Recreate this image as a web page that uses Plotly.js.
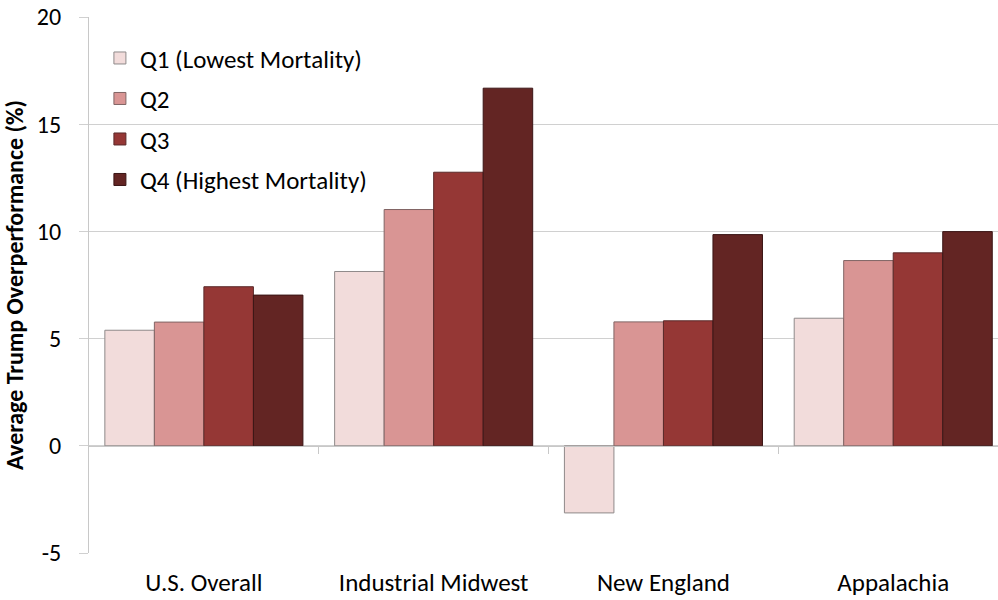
<!DOCTYPE html>
<html>
<head>
<meta charset="utf-8">
<script src="https://cdn.plot.ly/plotly-3.0.1.min.js"></script>
<style>html,body{margin:0;padding:0;background:#fff;}#chart{width:998px;height:600px;}</style>
</head>
<body>
<div id="chart"></div>
<script>
const categories = ["U.S. Overall", "Industrial Midwest", "New England", "Appalachia"];
const seriesNames = ["Q1 (Lowest Mortality)", "Q2", "Q3", "Q4 (Highest Mortality)"];
const q1 = [5.39, 8.13, -3.13, 5.95];
const q2 = [5.77, 11.02, 5.78, 8.64];
const q3 = [7.42, 12.76, 5.83, 9.0];
const q4 = [7.03, 16.68, 9.85, 9.99];
const yTicks = [-5, 0, 5, 10, 15, 20];
const yTickLabels = ["-5", "0", "5", "10", "15", "20"];
const boundaryTicks = [0.5, 1.5, 2.5];

const seriesValues = [q1, q2, q3, q4];
const fills = ["#F2DCDB", "#D99594", "#953735", "#632523"];
const edges = ["#8f8a8a", "#806464", "#5a2a2a", "#3a1515"];
const font = "Carlito, 'Open Sans', 'Noto Sans', sans-serif";

const traces = seriesValues.map((vals, i) => ({
  type: "bar",
  name: seriesNames[i],
  x: categories,
  y: vals,
  legendgroup: "g" + i,
  marker: {color: fills[i], line: {color: edges[i], width: 1}},
  hoverinfo: "x+y+name"
}));
traces.push({type: "scatter", mode: "markers", x: [], y: [], xaxis: "x2", yaxis: "y", showlegend: false, hoverinfo: "skip"});

const layout = {
  width: 998, height: 600,
  margin: {l: 89, r: 0, t: 17, b: 47},
  paper_bgcolor: "#fff", plot_bgcolor: "#fff",
  font: {family: font, color: "#000", size: 24},
  barmode: "group", bargap: 0.138, bargroupgap: 0,
  showlegend: true,
  legend: {x: 0.012, y: 0.966, xanchor: "left", yanchor: "top", bgcolor: "rgba(0,0,0,0)",
           font: {family: font, size: 25, color: "#000"}, tracegroupgap: 5, traceorder: "grouped"},
  xaxis: {type: "category", range: [-0.5, 3.456], showline: false, showgrid: false, zeroline: false,
          ticks: "", tickfont: {family: font, size: 25}, ticklabelstandoff: 12, fixedrange: true},
  xaxis2: {type: "linear", overlaying: "x", anchor: "free", position: 0.2, range: [-0.5, 3.456],
           showline: true, linecolor: "#c8c8c8", linewidth: 1, ticks: "outside", ticklen: 7,
           tickcolor: "#c8c8c8", tickvals: boundaryTicks, showticklabels: false, showgrid: false, zeroline: false},
  yaxis: {range: [-5, 20], tickvals: yTicks, ticktext: yTickLabels, showgrid: true, gridcolor: "#d0d0d0", gridwidth: 1,
          zeroline: false, showline: true, linecolor: "#c8c8c8", ticks: "outside", ticklen: 9,
          tickcolor: "#d0d0d0", tickfont: {family: font, size: 24}, ticklabelstandoff: 13,
          title: {text: "Average Trump Overperformance (%)", font: {family: font, size: 24, weight: "bold"}, standoff: 12}}
};

Plotly.newPlot("chart", traces, layout, {displayModeBar: false, staticPlot: true});
</script>
</body>
</html>
